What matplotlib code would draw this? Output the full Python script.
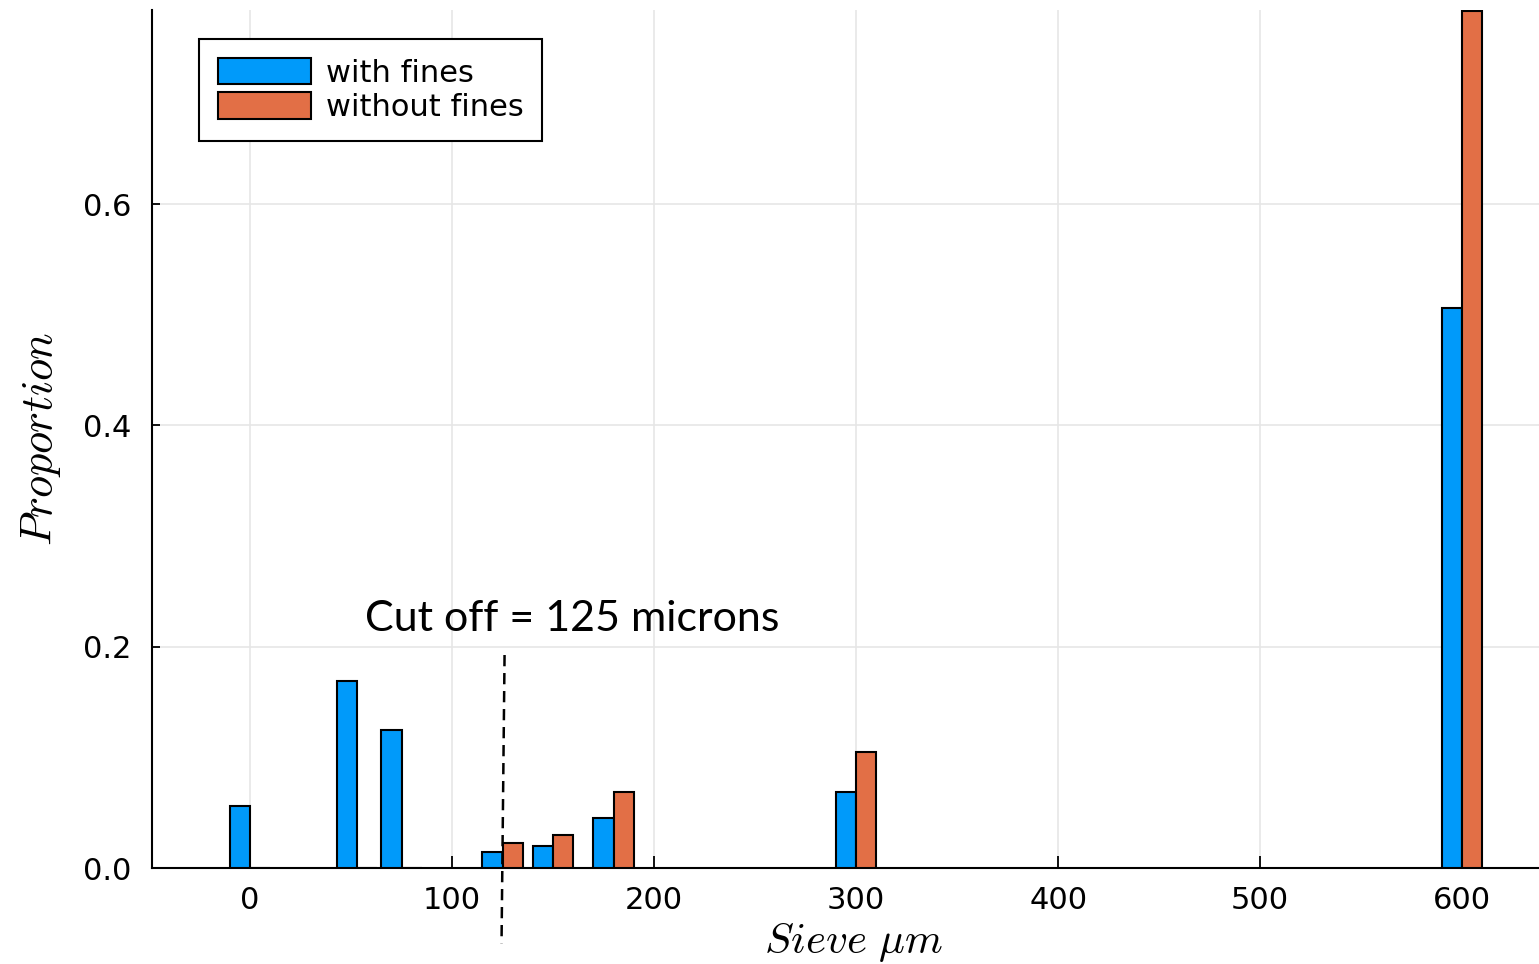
import numpy as np
import matplotlib.pyplot as plt
from matplotlib.patches import Patch

plt.rcParams['mathtext.fontset'] = 'cm'
plt.rcParams['font.family'] = ['DejaVu Sans']

# sieve sizes (microns) and proportion retained
sieve = [0, 53, 75, 125, 150, 180, 300, 600]
with_fines = [0.056, 0.169, 0.125, 0.0145, 0.020, 0.045, 0.069, 0.506]
without_fines = [0.0, 0.0, 0.0, 0.0226, 0.030, 0.069, 0.105, 0.775]
cutoff = 125

blue = '#009AFA'
orange = '#E26F46'

fig = plt.figure(figsize=(15.39, 9.64), dpi=100)
ax = fig.add_axes([152/1539, 96/964, 1 - 152/1539, 858/964])

x = np.array(sieve)
w = 10
ax.bar(x - w/2, with_fines, width=w, color=blue, edgecolor='black', linewidth=1.5, zorder=3)
ax.bar(x + w/2, without_fines, width=w, color=orange, edgecolor='black', linewidth=1.5, zorder=3)

ax.set_xlim(-48.5, 638)
ax.set_ylim(0, 0.7755)
ax.set_xticks([0, 100, 200, 300, 400, 500, 600])
ax.set_yticks([0.0, 0.2, 0.4, 0.6])
ax.set_yticklabels(['0.0', '0.2', '0.4', '0.6'])
ax.grid(True, color='#e6e6e6', linewidth=1.2, zorder=0)
ax.set_axisbelow(True)
for s in ['top', 'right']:
    ax.spines[s].set_visible(False)
for s in ['left', 'bottom']:
    ax.spines[s].set_linewidth(1.5)
ax.tick_params(axis='x', direction='in', length=9, width=1.3, pad=13, labelsize=22)
ax.tick_params(axis='y', direction='in', length=6, width=1.3, pad=15, labelsize=22)

ax.set_xlabel(r'$Sieve\ \mu m$', fontsize=31, labelpad=4.5)
ax.xaxis.label.set_x(0.506)
ax.set_ylabel(r'$Proportion$', fontsize=32, labelpad=14)

# cut off marker
ax.plot([cutoff + 1, cutoff - 0.5], [0.1925, -0.068], color='black', linestyle=(0, (4.5, 2.7)),
        linewidth=1.8, clip_on=False, zorder=4)
ax.text(57, 0.214, 'Cut off = 125 microns', fontsize=31, family='Lato', va='baseline')

handles = [Patch(facecolor=blue, edgecolor='black', linewidth=1.5, label='with fines'),
           Patch(facecolor=orange, edgecolor='black', linewidth=1.5, label='without fines')]
leg = ax.legend(handles=handles, loc='upper left', bbox_to_anchor=(199/1539, 1 - 39/964),
                bbox_transform=fig.transFigure, borderaxespad=0, fontsize=22, fancybox=False,
                edgecolor='black', framealpha=1, handlelength=3.04, handleheight=0.96,
                handletextpad=0.48, labelspacing=0.15, borderpad=0.62)
leg.get_frame().set_linewidth(1.5)

fig.savefig('out.png', dpi=100)
